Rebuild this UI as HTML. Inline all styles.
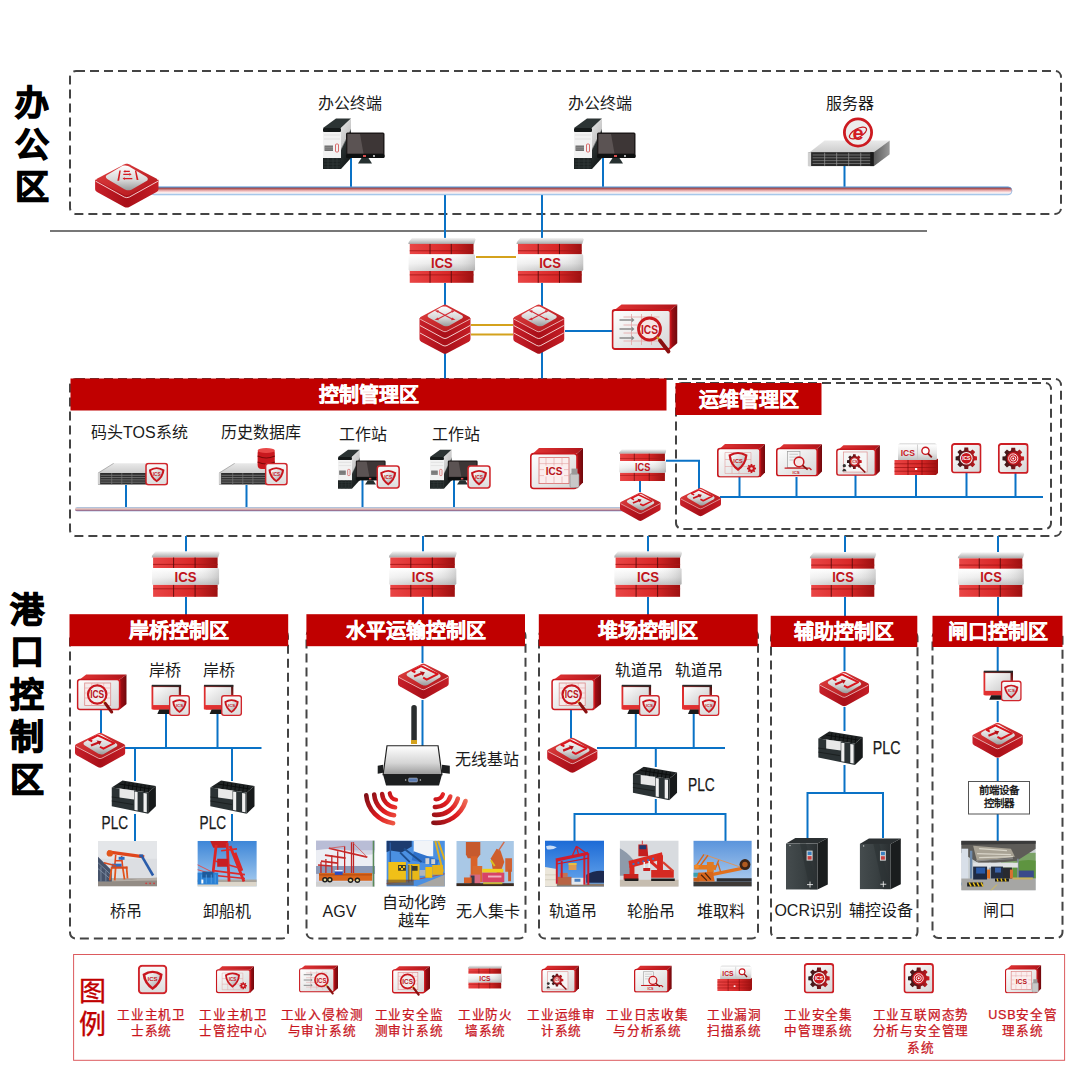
<!DOCTYPE html>
<html lang="zh-CN">
<head>
<meta charset="utf-8">
<style>
html,body{margin:0;padding:0;background:#fff;}
body{width:1078px;height:1068px;overflow:hidden;position:relative;font-family:"Liberation Sans",sans-serif;}
#main{position:absolute;left:0;top:0;}
text{font-family:"Liberation Sans",sans-serif;}
</style>
</head>
<body>
<svg id="main" width="1078" height="1068" viewBox="0 0 1078 1068">
<defs>
<linearGradient id="gCap" x1="0" y1="0" x2="0" y2="1"><stop offset="0" stop-color="#f6f6f6"/><stop offset="1" stop-color="#a9a9a9"/></linearGradient>
<linearGradient id="gBrick" x1="0" y1="0" x2="1" y2="0"><stop offset="0" stop-color="#e94545"/><stop offset=".6" stop-color="#d92828"/><stop offset="1" stop-color="#9c1010"/></linearGradient>
<linearGradient id="gBand" x1="0" y1="0" x2="0" y2="1"><stop offset="0" stop-color="#ffffff"/><stop offset=".55" stop-color="#e6e6e6"/><stop offset="1" stop-color="#bdbdbd"/></linearGradient>
<linearGradient id="gRedTop" x1="0" y1="0" x2="1" y2="1"><stop offset="0" stop-color="#e24141"/><stop offset="1" stop-color="#b0141a"/></linearGradient>
<linearGradient id="gRedSide" x1="0" y1="0" x2="1" y2="0"><stop offset="0" stop-color="#c8202a"/><stop offset=".5" stop-color="#a80f18"/><stop offset="1" stop-color="#c51e26"/></linearGradient>
<linearGradient id="gSilver" x1="0" y1="0" x2="0" y2="1"><stop offset="0" stop-color="#ffffff"/><stop offset=".6" stop-color="#d5d5d5"/><stop offset="1" stop-color="#9a9a9a"/></linearGradient>
<linearGradient id="gBoxFront" x1="0" y1="0" x2="1" y2="1"><stop offset="0" stop-color="#ffffff"/><stop offset="1" stop-color="#d6d6d6"/></linearGradient>
<linearGradient id="gBoxSide" x1="0" y1="0" x2="1" y2="0"><stop offset="0" stop-color="#a80f16"/><stop offset="1" stop-color="#6e080c"/></linearGradient>
<linearGradient id="gBoxTop" x1="0" y1="0" x2="1" y2="0"><stop offset="0" stop-color="#e03434"/><stop offset="1" stop-color="#b0141a"/></linearGradient>
<linearGradient id="gPipe" x1="0" y1="0" x2="0" y2="1"><stop offset="0" stop-color="#4d8fd0"/><stop offset=".18" stop-color="#a24848"/><stop offset=".5" stop-color="#f1b9b9"/><stop offset=".75" stop-color="#fdf3f3"/><stop offset="1" stop-color="#b8d2ee"/></linearGradient>
<linearGradient id="gPipe2" x1="0" y1="0" x2="0" y2="1"><stop offset="0" stop-color="#9ec3e8"/><stop offset=".45" stop-color="#f0c2b4"/><stop offset=".75" stop-color="#9a6f8f"/><stop offset="1" stop-color="#b7cbe9"/></linearGradient>
<linearGradient id="gCab" x1="0" y1="0" x2="1" y2="0"><stop offset="0" stop-color="#454c4e"/><stop offset=".55" stop-color="#394042"/><stop offset="1" stop-color="#2a2f31"/></linearGradient>
<linearGradient id="gScreen" x1="0" y1="0" x2="1" y2="1"><stop offset="0" stop-color="#ffffff"/><stop offset="1" stop-color="#c9c9c9"/></linearGradient>
<linearGradient id="gWave" x1="0" y1="0" x2="1" y2="1"><stop offset="0" stop-color="#ee3030"/><stop offset="1" stop-color="#9a0c10"/></linearGradient>
<linearGradient id="gSky" x1="0" y1="0" x2="0" y2="1"><stop offset="0" stop-color="#3d86d8"/><stop offset="1" stop-color="#a9cdef"/></linearGradient>
<linearGradient id="gBadge" x1="0" y1="0" x2="0" y2="1"><stop offset="0" stop-color="#fafafa"/><stop offset="1" stop-color="#dcdcdc"/></linearGradient>
<linearGradient id="gShieldIn" x1="0" y1="0" x2="1" y2="1"><stop offset="0" stop-color="#ffffff"/><stop offset=".5" stop-color="#d8d8d8"/><stop offset="1" stop-color="#a8a8a8"/></linearGradient>
<linearGradient id="gSrvTop" x1="0" y1="0" x2="0" y2="1"><stop offset="0" stop-color="#e9e9e9"/><stop offset="1" stop-color="#cdcdcd"/></linearGradient>
<linearGradient id="gWaveL" gradientUnits="userSpaceOnUse" x1="364" y1="796" x2="398" y2="826"><stop offset="0" stop-color="#7e1016"/><stop offset=".55" stop-color="#e01a1e"/><stop offset="1" stop-color="#f06a50"/></linearGradient>
<linearGradient id="gWaveR" gradientUnits="userSpaceOnUse" x1="432" y1="826" x2="468" y2="798"><stop offset="0" stop-color="#7e1016"/><stop offset=".55" stop-color="#e01a1e"/><stop offset="1" stop-color="#f07a60"/></linearGradient>
<linearGradient id="gGear" x1="0" y1="0" x2="1" y2="0"><stop offset="0" stop-color="#2e1a1c"/><stop offset=".45" stop-color="#6a1418"/><stop offset="1" stop-color="#d01c22"/></linearGradient>
<linearGradient id="gSkyDeep" x1="0" y1="0" x2="0" y2="1"><stop offset="0" stop-color="#1c6ad6"/><stop offset="1" stop-color="#6aa8ec"/></linearGradient>
<linearGradient id="gSky2" x1="0" y1="0" x2="0" y2="1"><stop offset="0" stop-color="#5a94dc"/><stop offset="1" stop-color="#b4d0ee"/></linearGradient>
<linearGradient id="gBandH" x1="0" y1="0" x2="1" y2="0"><stop offset="0" stop-color="#ffffff" stop-opacity=".5"/><stop offset=".6" stop-color="#ffffff" stop-opacity="0"/><stop offset="1" stop-color="#909090" stop-opacity=".35"/></linearGradient>
<linearGradient id="gSrvSide" x1="0" y1="0" x2="1" y2="0"><stop offset="0" stop-color="#5a5a5a"/><stop offset="1" stop-color="#9a9a9a"/></linearGradient>
<linearGradient id="gMonFrame" x1="0" y1="1" x2="1" y2="0"><stop offset="0" stop-color="#e83232"/><stop offset=".6" stop-color="#d42a2a"/><stop offset="1" stop-color="#3a1010"/></linearGradient>
<linearGradient id="gPcSide" x1="0" y1="0" x2="0.4" y2="1"><stop offset="0" stop-color="#e6e6e6"/><stop offset=".5" stop-color="#c8c8c8"/><stop offset=".56" stop-color="#2a3030"/><stop offset="1" stop-color="#151a1a"/></linearGradient>
<linearGradient id="gSkyGray" x1="0" y1="0" x2="0" y2="1"><stop offset="0" stop-color="#d9dde2"/><stop offset="1" stop-color="#eef0f2"/></linearGradient>

<!-- ICS firewall 68x46 -->
<symbol id="fw" viewBox="0 0 68 46">
 <path d="M4 0.3 H67 L68 2 L66.5 6.5 H0 L0.5 4.5 Z" fill="url(#gCap)"/>
 <rect x="1.5" y="6.5" width="64.5" height="10.8" fill="url(#gBrick)"/>
 <rect x="1.5" y="33.6" width="64.5" height="12.2" fill="url(#gBrick)"/>
 <path d="M1.5 13.4 H66 M1.5 37.8 H66" stroke="#a81818" stroke-width=".9"/>
 <path d="M22 6.5 V17.3 M43.5 6.5 V17.3 M22 33.6 V45.8 M43.5 33.6 V45.8" stroke="#5a0a0a" stroke-width=".9"/>
 <rect x="0.5" y="17" width="67" height="16.8" rx="1.5" fill="url(#gBand)"/>
 <rect x="0.5" y="17" width="67" height="16.8" rx="1.5" fill="url(#gBandH)"/>
 <text x="34" y="31" text-anchor="middle" font-size="15" font-weight="bold" fill="#c0141c" textLength="22" lengthAdjust="spacingAndGlyphs">ICS</text>
</symbol>

<!-- router 52x37 -->
<symbol id="rt" viewBox="0 0 52 37">
 <path d="M0.5 13.5 V21 Q0.5 22.6 2.2 23.6 L24 35.8 Q26 36.8 28 35.8 L49.8 23.6 Q51.5 22.6 51.5 21 V13.5 Z" fill="url(#gRedSide)"/>
 <path d="M24.2 1.2 Q26 0.2 27.8 1.2 L50 12.3 Q52.2 13.5 50 14.7 L27.8 25.8 Q26 26.8 24.2 25.8 L2 14.7 Q-0.2 13.5 2 12.3 Z" fill="url(#gRedTop)"/>
 <path d="M1.2 14.6 L24.2 26.6 Q26 27.5 27.8 26.6 L50.8 14.6" fill="none" stroke="#f6d0d0" stroke-width=".8"/>
 <path d="M42.00 11.38 L42.73 11.93 L43.22 12.57 L43.43 13.23 L43.35 13.89 L42.98 14.49 L42.35 15.00 L30.25 22.20 L29.40 22.58 L28.40 22.79 L27.30 22.84 L26.18 22.71 L25.13 22.42 L24.20 21.98 L10.60 13.82 L9.87 13.27 L9.38 12.63 L9.17 11.97 L9.25 11.31 L9.62 10.71 L10.25 10.20 L22.35 3.00 L23.20 2.62 L24.20 2.41 L25.30 2.36 L26.42 2.49 L27.47 2.78 L28.40 3.22Z" fill="url(#gSilver)"/>

 <path d="M18 9.6 L14.8 8 L23.7 3.4 L40.4 11.4 L29.4 17 L25.8 15" fill="none" stroke="#d8141c" stroke-width="2" stroke-linejoin="round"/>
 <path d="M16.7 13.8 L24.6 10.6" stroke="#c8141c" stroke-width="2.2"/>
 <path d="M27.6 9.4 L22.4 8.6 L25.4 13.2 Z" fill="#b01018"/>
</symbol>

<!-- office router 64x46 -->
<symbol id="rt2" viewBox="0 0 64 46">
 <path d="M0.5 17.5 V27 Q0.5 28.8 2.4 29.8 L29.5 44.6 Q32 45.8 34.5 44.6 L61.6 29.8 Q63.5 28.8 63.5 27 V17.5 Z" fill="url(#gRedSide)"/>
 <path d="M61.30 16.34 L61.79 16.68 L62.10 17.08 L62.21 17.50 L62.10 17.92 L61.79 18.32 L61.30 18.66 L34.20 32.84 L33.56 33.10 L32.81 33.27 L32.00 33.32 L31.19 33.27 L30.44 33.10 L29.79 32.84 L2.70 18.66 L2.21 18.32 L1.90 17.92 L1.79 17.50 L1.90 17.08 L2.21 16.68 L2.71 16.34 L29.79 2.16 L30.44 1.90 L31.19 1.73 L32.00 1.68 L32.81 1.73 L33.56 1.90 L34.20 2.15Z" fill="url(#gRedTop)"/>
 <path d="M1 19 L29.5 34.8 Q32 36 34.5 34.8 L63 19" fill="none" stroke="#f8dada" stroke-width=".9"/>
 <path d="M51.06 14.46 L51.97 15.14 L52.57 15.90 L52.84 16.71 L52.76 17.50 L52.33 18.21 L51.58 18.82 L37.02 27.38 L36.00 27.83 L34.78 28.08 L33.45 28.13 L32.09 27.96 L30.80 27.60 L29.66 27.06 L12.94 17.14 L12.03 16.46 L11.43 15.70 L11.16 14.89 L11.24 14.10 L11.67 13.39 L12.42 12.78 L26.98 4.22 L28.00 3.77 L29.22 3.52 L30.55 3.47 L31.91 3.64 L33.20 4.00 L34.34 4.54Z" fill="url(#gSilver)"/>
 <path d="M24.6 8.3 L26 8.3 L24.4 18.6 L22.6 18.6 Z M40 8.3 L41.4 8.3 L43.6 17.8 L41.8 17.8 Z" fill="#d41c22"/>
 <path d="M30 9.3 H35 M28.5 12.2 H35 M29.5 16.4 H37.5" stroke="#d41c22" stroke-width="1.3"/>
 <path d="M28.5 9.3 L30.5 8 V10.6 Z M36.8 12.2 L34.6 10.8 V13.6 Z M27.8 16.4 L30 15 V17.8 Z" fill="#d41c22"/>
</symbol>

<!-- core switch 52x50 -->
<symbol id="sw" viewBox="0 0 52 50">
 <path d="M0.5 14 V35 Q0.5 36.8 2.2 37.8 L24 49.3 Q26 50.3 28 49.3 L49.8 37.8 Q51.5 36.8 51.5 35 V14 Z" fill="url(#gRedSide)"/>
 <path d="M1 21.5 L24 34 Q26 35 28 34 L51 21.5 M1 29 L24 41.5 Q26 42.5 28 41.5 L51 29" fill="none" stroke="#f3cccc" stroke-width="1"/>
 <path d="M24.2 1 Q26 0 27.8 1 L50 12.8 Q52.2 14 50 15.2 L27.8 26.5 Q26 27.5 24.2 26.5 L2 15.2 Q-0.2 14 2 12.8 Z" fill="url(#gRedTop)"/>
 <path d="M1.2 15.2 L24.2 27.3 Q26 28.2 27.8 27.3 L50.8 15.2" fill="none" stroke="#f6d0d0" stroke-width=".8"/>
 <path d="M42.42 10.98 L43.17 11.51 L43.67 12.12 L43.88 12.76 L43.79 13.40 L43.41 13.99 L42.76 14.50 L30.24 21.70 L29.37 22.08 L28.33 22.31 L27.20 22.37 L26.05 22.26 L24.97 21.99 L24.02 21.58 L10.08 13.82 L9.33 13.29 L8.83 12.68 L8.62 12.04 L8.71 11.40 L9.09 10.81 L9.74 10.30 L22.26 3.10 L23.13 2.72 L24.17 2.49 L25.30 2.43 L26.45 2.54 L27.53 2.81 L28.48 3.22Z" fill="url(#gSilver)"/>
 <path d="M18.5 7.2 L33.5 15.2 M33.5 7.2 L18.5 15.2" stroke="#d42c36" stroke-width="1.1"/>
 <path d="M15.5 6.6 L19.8 6.2 L19 8.8 Z M36.5 6.6 L32.2 6.2 L33 8.8 Z M15.5 15.8 L19.8 16.2 L19 13.6 Z M36.5 15.8 L32.2 16.2 L33 13.6 Z" fill="#d42c36"/>
</symbol>

<!-- office desktop 62x51 -->
<symbol id="pc" viewBox="0 0 62 51">
 <path d="M0 10 L13 0.5 H28 L18 10 Z" fill="#2c3434"/>
 <path d="M18 10 L28 0.5 V40 L18 51 Z" fill="url(#gPcSide)"/>
 <rect x="0" y="10" width="18" height="4" rx="1" fill="#151a1a"/>
 <rect x="0" y="14" width="18" height="26" fill="#f2f2f2"/>
 <path d="M1 17 H17 M1 21 H17" stroke="#dcdcdc" stroke-width=".8"/>
 <rect x="0" y="40" width="18" height="11" fill="#1e2424"/>
 <path d="M1 43 H17 M1 46 H17 M1 49 H17 M5 40 V51 M10 40 V51 M14 40 V51" stroke="#353c3c" stroke-width=".7"/>
 <rect x="1.5" y="27.5" width="8.5" height="5.5" fill="#6e6e6e"/>
 <path d="M1.5 29.3 H10 M1.5 31.1 H10" stroke="#a0a0a0" stroke-width=".6"/>
 <rect x="12.5" y="26" width="3" height="8" rx="1" fill="none" stroke="#d04848" stroke-width=".8"/>
 <rect x="23" y="14.5" width="38.5" height="25.5" rx="1.5" fill="#1e1a1a"/>
 <rect x="24.5" y="16" width="35.5" height="19.5" fill="#3d3636"/>
 <path d="M24.5 16 H37 L40.5 35.5 H24.5 Z" fill="#5b5353"/>
 <rect x="23" y="36" width="38.5" height="4" rx="1.5" fill="#0e1010"/>
 <path d="M38.5 40 H45.5 L49 45.5 H35 Z" fill="#263030"/>
 <rect x="40" y="37" width="3" height="2" fill="#d85050"/>
 <circle cx="51" cy="38" r=".9" fill="#fff"/>
</symbol>

<!-- rack server 82x26 -->
<symbol id="srv" viewBox="0 0 82 26" preserveAspectRatio="none">
 <path d="M2 12 L17 0.5 H82 L66 12 Z" fill="url(#gSrvTop)"/>
 <path d="M66 12 L82 0.5 V14 L66 26 Z" fill="url(#gSrvSide)"/>
 <rect x="1" y="12" width="65" height="14" fill="#2a2a2a"/>
 <path d="M5 14.8 H63 M5 17.6 H63 M5 20.4 H63 M5 23.2 H63" stroke="#7e7e7e" stroke-width=".8"/>
 <path d="M17 12.5 V25.5 M29 12.5 V25.5 M41 12.5 V25.5 M53 12.5 V25.5" stroke="#9a9a9a" stroke-width=".7"/>
 <rect x="0" y="12" width="3.5" height="14" fill="#d0d0d0"/>
 <rect x="62.5" y="12" width="3.5" height="14" fill="#1a1a1a"/>
</symbol>
<!-- small server 48x22 -->
<symbol id="srv2" viewBox="0 0 48 22" preserveAspectRatio="none">
 <path d="M0.5 10 L16 0.3 H48 V10 Z" fill="url(#gSrvTop)"/>
 <path d="M0.5 10 L16 0.3" stroke="#888" stroke-width=".6"/>
 <rect x="0.5" y="10" width="47.5" height="11.5" fill="#2e2e2e"/>
 <path d="M3 12.3 H47 M3 14.6 H47 M3 16.9 H47 M3 19.2 H47" stroke="#8a8a8a" stroke-width=".7"/>
 <path d="M14 10 V21.5 M24 10 V21.5 M34 10 V21.5" stroke="#777" stroke-width=".7"/>
 <rect x="0" y="10" width="2.5" height="11.5" fill="#cfcfcf"/>
</symbol>

<!-- shield badge 23x23 -->
<symbol id="badge" viewBox="0 0 23 23">
 <rect x="1" y="1" width="21" height="21" rx="2.5" fill="url(#gBadge)" stroke="#d0262c" stroke-width="1.5"/>
 <path d="M3.8 7.2 Q11.5 2.2 19.2 7.2 Q18.6 14.8 11.5 19.6 Q4.4 14.8 3.8 7.2 Z" fill="#c8161e"/>
 <path d="M6 8.2 Q11.5 4.8 17 8.2 Q16.4 13.6 11.5 17.2 Q6.6 13.6 6 8.2 Z" fill="url(#gShieldIn)"/>
 <text x="11.5" y="13" text-anchor="middle" font-size="4.6" font-weight="bold" fill="#c8161e">ICS</text>
</symbol>

<!-- red-frame monitor 30x30 -->
<symbol id="mon" viewBox="0 0 30 30">
 <rect x="0" y="0.5" width="30" height="24.5" rx="1" fill="url(#gMonFrame)"/>
 <rect x="0.5" y="0" width="29.5" height="2" fill="#2a2a2a"/>
 <rect x="2" y="2.5" width="25.5" height="18" fill="url(#gScreen)"/>
 <rect x="2" y="21" width="26" height="4" fill="#e03030"/>
 <path d="M8 25 H19 L20.5 29.5 H6 Z" fill="#1a1a1a"/>
</symbol>

<!-- PLC 45x34 -->
<symbol id="plc" viewBox="0 0 45 34">
 <path d="M0.5 7.4 L11.3 0.4 L44.7 6 L36.9 12.4 Z" fill="#1f2324"/>
 <path d="M8 4 L40 9 M14 2 L13 9 M18 2.5 L17 9.5 M22 3.2 L21 10 M26 3.8 L25 10.6 M30 4.5 L29 11.2 M34 5 L33 11.8 M38 5.6 L37 12.3" stroke="#0a0c0c" stroke-width=".9"/>
 <path d="M36.9 12.4 L44.7 6 V26.3 L36.9 33.8 Z" fill="#171a1b"/>
 <path d="M0.5 7.4 L36.9 12.4 V33.8 L0.5 26.3 Z" fill="#2b3234"/>
 <path d="M8.3 8.5 L22.8 10.5 V19.5 L8.3 17.5 Z" fill="#e8e8e8"/>
 <path d="M23.3 11.6 L26.4 12 V30.5 L23.3 30 Z" fill="#f0f0f0"/>
 <path d="M32.3 13 L35.6 13.4 V32.3 L32.3 31.8 Z" fill="#f0f0f0"/>
 <path d="M0.5 17 L8.3 18 M0.5 21 L22 24.5" stroke="#151818" stroke-width=".7"/>
</symbol>

<!-- cabinet 42x52 -->
<symbol id="cab" viewBox="0 0 42 52">
 <path d="M0 6 L9.4 0.5 H41.8 L31.5 6 Z" fill="#2b3032"/>
 <path d="M31.5 6 L41.8 0.5 V47 L31.5 52 Z" fill="#1a1d1e"/>
 <rect x="0" y="6" width="31.5" height="46" fill="url(#gCab)"/>
 <path d="M14 6 L20 6 L31.5 52 H24 Z" fill="#2c3234" opacity=".6"/>
 <rect x="20.6" y="13" width="6" height="10" fill="#d7d7d7"/>
 <rect x="21.6" y="14" width="4" height="3.5" fill="#3a7fbf"/>
 <rect x="21.6" y="18.5" width="4" height="3.5" fill="#c84040"/>
 <path d="M24 44 V50 M21 47 H27" stroke="#fff" stroke-width=".8"/>
 <circle cx="4" cy="8" r=".7" fill="#ddd"/>
</symbol>

<!-- audit box (ICS magnifier) 50x43 -->
<symbol id="audit" viewBox="0 0 50 43">
 <path d="M3 5.5 L9.5 0.5 H50 L43 5.5 Z" fill="url(#gBoxTop)"/>
 <path d="M43 5.5 L50 0.5 V30 L43 35.5 Z" fill="url(#gBoxSide)"/>
 <rect x="0.8" y="5.5" width="42.2" height="30" rx="2.5" fill="url(#gBoxFront)" stroke="#cc1a20" stroke-width="1.7"/>
 <rect x="8" y="9" width="26" height="22.5" fill="#f7eaea" stroke="#dd8a8a" stroke-width=".8"/>
 <path d="M8 14 H34 M8 19 H34 M8 24 H34 M15 9 V31.5 M21 9 V31.5 M27 9 V31.5" stroke="#e7a5a5" stroke-width=".6"/>
 <circle cx="20.5" cy="20.5" r="9.2" fill="#eeeeee" fill-opacity=".85" stroke="#c8161e" stroke-width="2.2"/>
 <text x="20.5" y="24.3" text-anchor="middle" font-size="10" font-weight="bold" fill="#b8141c" textLength="14" lengthAdjust="spacingAndGlyphs">ICS</text>
 <path d="M26.8 27.3 L28.6 29.4" stroke="#d8b020" stroke-width="2"/>
 <path d="M28.6 29.4 L35 38" stroke="#8a1010" stroke-width="3" stroke-linecap="round"/>
</symbol>

<!-- audit box 2 (arrows + magnifier right) 66x55 -->
<symbol id="audit2" viewBox="0 0 66 55">
 <path d="M3 6 L10 0.5 H66 L59 6 Z" fill="url(#gBoxTop)"/>
 <path d="M59 6 L66 0.5 V39 L59 45 Z" fill="url(#gBoxSide)"/>
 <rect x="1" y="6" width="58" height="39" rx="2.5" fill="url(#gBoxFront)" stroke="#c8181e" stroke-width="1.8"/>
 <path d="M12 13 H48 M12 21 H48 M12 29 H48 M12 37 H48 M20 10 V41 M30 10 V41 M40 10 V41" stroke="#e5a5a5" stroke-width=".8"/>
 <path d="M8 16 H20 M8 25 H20 M8 34 H20" stroke="#8a8a8a" stroke-width="1.6"/>
 <path d="M20 13.5 L23 16 L20 18.5 Z M20 22.5 L23 25 L20 27.5 Z M20 31.5 L23 34 L20 36.5 Z" fill="#8a8a8a"/>
 <circle cx="38" cy="25" r="11" fill="#f6e4e4" stroke="#c8181e" stroke-width="2.8"/>
 <text x="38" y="29.5" text-anchor="middle" font-size="12" font-weight="bold" fill="#c0141c" textLength="17" lengthAdjust="spacingAndGlyphs">ICS</text>
 <path d="M45.5 33 L50 38" stroke="#c8a020" stroke-width="2"/>
 <path d="M48.5 36.5 L57 47.5" stroke="#8a1010" stroke-width="3.8" stroke-linecap="round"/>
</symbol>

<!-- USB box 54x42 -->
<symbol id="usbbox" viewBox="0 0 54 42">
 <path d="M3 6 L9 0.5 H53 L47 6 Z" fill="url(#gBoxTop)"/>
 <path d="M47 6 L53 0.5 V35 L47 41 Z" fill="url(#gBoxSide)"/>
 <rect x="0.8" y="6" width="46.2" height="35" rx="3" fill="url(#gBoxFront)" stroke="#c8181e" stroke-width="1.6"/>
 <rect x="9" y="10" width="30" height="26" fill="#fbeeee" stroke="#d76a6a" stroke-width=".8"/>
 <path d="M9 16 H39 M9 22 H39 M9 28 H39 M16 10 V36 M24 10 V36 M32 10 V36" stroke="#e2a0a0" stroke-width=".6"/>
 <rect x="14" y="18" width="20" height="11" fill="#fbeeee"/>
 <text x="24" y="27.5" text-anchor="middle" font-size="10" font-weight="bold" fill="#b8141a">ICS</text>
 <rect x="40" y="26" width="9" height="14" rx="1.5" fill="#c8c8c8" stroke="#888" stroke-width=".6"/>
 <rect x="41.5" y="21" width="6" height="6" fill="#9a9a9a"/>
</symbol>

<!-- ops box: shield + gear 48x34 -->
<symbol id="opsShield" viewBox="0 0 48 34">
 <path d="M3 5 L8 0.5 H48 L43 5 Z" fill="url(#gBoxTop)"/>
 <path d="M43 5 L48 0.5 V29 L43 34 Z" fill="url(#gBoxSide)"/>
 <rect x="0.8" y="5" width="42.2" height="28.5" rx="2.5" fill="url(#gBoxFront)" stroke="#c8181e" stroke-width="1.6"/>
 <path d="M8 9 H34 V30 H8 Z M8 16 H34 M8 23 H34 M15 9 V30 M22 9 V30" fill="none" stroke="#e2a0a0" stroke-width=".6"/>
 <path d="M11.5 11.2 Q21 5.6 30.5 11.2 Q29.6 21.5 21 27.6 Q12.4 21.5 11.5 11.2 Z" fill="#c8161e"/>
 <path d="M14 12.4 Q21 8.4 28 12.4 Q27.2 20 21 24.6 Q14.8 20 14 12.4 Z" fill="url(#gShieldIn)"/>
 <text x="21" y="19" text-anchor="middle" font-size="5.6" font-weight="bold" fill="#c8161e">ICS</text>
 <path d="M33.59 21.72 L33.69 20.47 L35.31 20.47 L35.41 21.72 L36.17 22.04 L37.13 21.23 L38.27 22.37 L37.46 23.33 L37.78 24.09 L39.03 24.19 L39.03 25.81 L37.78 25.91 L37.46 26.67 L38.27 27.63 L37.13 28.77 L36.17 27.96 L35.41 28.28 L35.31 29.53 L33.69 29.53 L33.59 28.28 L32.83 27.96 L31.87 28.77 L30.73 27.63 L31.54 26.67 L31.22 25.91 L29.97 25.81 L29.97 24.19 L31.22 24.09 L31.54 23.33 L30.73 22.37 L31.87 21.23 L32.83 22.04Z" fill="#c8161e"/>
 <circle cx="34.5" cy="25" r="1.3" fill="#f0d0d0"/>
</symbol>

<!-- ops box: log 48x34 -->
<symbol id="opsLog" viewBox="0 0 48 34">
 <path d="M3 5 L8 0.5 H48 L43 5 Z" fill="url(#gBoxTop)"/>
 <path d="M43 5 L48 0.5 V29 L43 34 Z" fill="url(#gBoxSide)"/>
 <rect x="0.8" y="5" width="42.2" height="28.5" rx="2.5" fill="url(#gBoxFront)" stroke="#c8181e" stroke-width="1.6"/>
 <rect x="12" y="8" width="13" height="17" fill="#f4f4f4" stroke="#999" stroke-width=".7"/>
 <path d="M14 11 H23 M14 14 H23 M14 17 H21" stroke="#aaa" stroke-width=".6"/>
 <circle cx="24" cy="19" r="5" fill="#f7e6e6" stroke="#c8181e" stroke-width="1.6"/>
 <path d="M9 25.5 H35 L37 27.5" fill="none" stroke="#c8181e" stroke-width="1.4"/>
 <path d="M27.5 22.5 L33 27" stroke="#8a1010" stroke-width="1.8"/>
 <text x="21" y="31.5" text-anchor="middle" font-size="4.5" font-weight="bold" fill="#c8181e">ICS</text>
</symbol>

<!-- ops box: gear + magnifier 48x34 -->
<symbol id="opsGear" viewBox="0 0 48 34">
 <path d="M3 5 L8 0.5 H48 L43 5 Z" fill="url(#gBoxTop)"/>
 <path d="M43 5 L48 0.5 V29 L43 34 Z" fill="url(#gBoxSide)"/>
 <rect x="0.8" y="5" width="42.2" height="28.5" rx="2.5" fill="url(#gBoxFront)" stroke="#c8181e" stroke-width="1.6"/>
 <rect x="8" y="8" width="26" height="22" fill="#f6f6f6" stroke="#d88" stroke-width=".7"/>
 <path d="M18.34 12.53 L18.56 10.43 L21.44 10.43 L21.66 12.53 L23.05 13.10 L24.69 11.77 L26.73 13.81 L25.40 15.45 L25.97 16.84 L28.07 17.06 L28.07 19.94 L25.97 20.16 L25.40 21.55 L26.73 23.19 L24.69 25.23 L23.05 23.90 L21.66 24.47 L21.44 26.57 L18.56 26.57 L18.34 24.47 L16.95 23.90 L15.31 25.23 L13.27 23.19 L14.60 21.55 L14.03 20.16 L11.93 19.94 L11.93 17.06 L14.03 16.84 L14.60 15.45 L13.27 13.81 L15.31 11.77 L16.95 13.10Z" fill="url(#gGear)"/>
 <circle cx="20" cy="18.5" r="4.2" fill="#f0e0e0" stroke="#c8181e" stroke-width="1.2"/>
 <text x="20" y="20" text-anchor="middle" font-size="3.8" font-weight="bold" fill="#c8181e">ICS</text>
 <path d="M24 22.5 L32 30.5" stroke="#8a1010" stroke-width="1.8"/>
 <circle cx="9" cy="23" r="1.8" fill="#333"/>
 <path d="M6.5 29 Q9 24 11.5 29 Z" fill="#333"/>
</symbol>

<!-- vuln scanner 44x32 -->
<symbol id="scan" viewBox="0 0 44 32">
 <path d="M4 2 L6 0 H41 L43 2 V17 H4 Z" fill="#e2e2e2"/>
 <rect x="4" y="1.5" width="19.5" height="16" fill="url(#gBand)"/>
 <rect x="23.5" y="1.5" width="19.5" height="16" fill="url(#gBand)"/>
 <path d="M23.5 1.5 V17.5" stroke="#bbb" stroke-width=".6"/>
 <text x="13.8" y="13" text-anchor="middle" font-size="8.5" font-weight="bold" fill="#c8161e">ICS</text>
 <circle cx="31.5" cy="7.8" r="3.6" fill="#fff" stroke="#c8161e" stroke-width="1.4"/>
 <path d="M34 10.5 L37.8 14.4" stroke="#8a1010" stroke-width="1.8"/>
 <path d="M0.5 17 H42 L44 15.5 V30 L42 32 H0.5 Z" fill="url(#gBrick)"/>
 <path d="M0.5 20.8 H42 M0.5 24.5 H42 M0.5 28.2 H42" stroke="#9a1010" stroke-width=".7"/>
 <path d="M14 17 V32 M28 17 V32" stroke="#7a0808" stroke-width=".7"/>
 <rect x="21" y="25" width="2.2" height="2" fill="#fff"/>
</symbol>

<!-- gear square 31x31 -->
<symbol id="gear1" viewBox="0 0 31 31">
 <rect x="1" y="1" width="29" height="29" rx="2.5" fill="url(#gBoxFront)" stroke="#cc1e24" stroke-width="1.8"/>
 <path d="M13.28 7.50 L13.57 4.67 L17.43 4.67 L17.72 7.50 L19.58 8.27 L21.79 6.48 L24.52 9.21 L22.73 11.42 L23.50 13.28 L26.33 13.57 L26.33 17.43 L23.50 17.72 L22.73 19.58 L24.52 21.79 L21.79 24.52 L19.58 22.73 L17.72 23.50 L17.43 26.33 L13.57 26.33 L13.28 23.50 L11.42 22.73 L9.21 24.52 L6.48 21.79 L8.27 19.58 L7.50 17.72 L4.67 17.43 L4.67 13.57 L7.50 13.28 L8.27 11.42 L6.48 9.21 L9.21 6.48 L11.42 8.27Z" fill="url(#gGear)"/>
 <circle cx="15.5" cy="15.5" r="6.4" fill="#f4f4f4"/>
 <circle cx="15.5" cy="15.5" r="5.4" fill="#c8161e"/>
 <text x="15.5" y="17.3" text-anchor="middle" font-size="5" font-weight="bold" fill="#fff">ICS</text>
</symbol>
<symbol id="gear2" viewBox="0 0 31 31">
 <rect x="1" y="1" width="29" height="29" rx="2.5" fill="url(#gBoxFront)" stroke="#cc1e24" stroke-width="1.8"/>
 <path d="M13.28 7.50 L13.57 4.67 L17.43 4.67 L17.72 7.50 L19.58 8.27 L21.79 6.48 L24.52 9.21 L22.73 11.42 L23.50 13.28 L26.33 13.57 L26.33 17.43 L23.50 17.72 L22.73 19.58 L24.52 21.79 L21.79 24.52 L19.58 22.73 L17.72 23.50 L17.43 26.33 L13.57 26.33 L13.28 23.50 L11.42 22.73 L9.21 24.52 L6.48 21.79 L8.27 19.58 L7.50 17.72 L4.67 17.43 L4.67 13.57 L7.50 13.28 L8.27 11.42 L6.48 9.21 L9.21 6.48 L11.42 8.27Z" fill="url(#gGear)"/>
 <circle cx="15.5" cy="15.5" r="6.4" fill="#c8161e"/>
 <circle cx="15.5" cy="15.5" r="4.6" fill="none" stroke="#fff" stroke-width=".9"/>
 <circle cx="15.5" cy="15.5" r="2.6" fill="none" stroke="#fff" stroke-width=".9"/>
 <circle cx="15.5" cy="15.5" r="1" fill="#fff"/>
</symbol>

<!-- base station 75x42 -->
<symbol id="bs" viewBox="0 0 75 42">
 <path d="M10 0.5 H62 L66 30 H6 Z" fill="url(#gSilver)" stroke="#222" stroke-width="1.2"/>
 <path d="M6 30 H66 L63 41 H9 Z" fill="#1d1f20"/>
 <path d="M6 20 L0.5 21 V29 L6 28 Z M66 20 L74 21 V29 L66 28 Z" fill="#1d1f20"/>
 <rect x="32" y="33.5" width="9" height="4" rx="1" fill="#5a7ab0" stroke="#ccc" stroke-width=".5"/>
 <circle cx="29" cy="35.5" r=".8" fill="#ccc"/><circle cx="44" cy="35.5" r=".8" fill="#ccc"/>
</symbol>

<!-- wave -->
<symbol id="waveL" viewBox="0 0 38 37">
 <path d="M30.66 34.95 A36.5 36.5 0 0 1 0.86 4.08 A4.25 4.25 0 0 1 9.27 2.90 A28 28 0 0 0 32.14 26.57 A4.25 4.25 0 0 1 30.66 34.95Z" fill="url(#gWave)"/>
 <path d="M33.52 23.76 A25 25 0 0 1 12.38 3.34 A3.25 3.25 0 0 1 18.78 2.21 A18.5 18.5 0 0 0 34.43 17.32 A3.25 3.25 0 0 1 33.52 23.76Z" fill="url(#gWave)"/>
 <path d="M35.48 13.42 A14.5 14.5 0 0 1 22.99 2.75 A2.5 2.5 0 0 1 27.82 1.46 A9.5 9.5 0 0 0 36.01 8.45 A2.5 2.5 0 0 1 35.48 13.42Z" fill="url(#gWave)"/>
</symbol>
</defs>

<!-- ===================== DASHED BOXES ===================== -->
<g fill="none" stroke="#444" stroke-width="2" stroke-dasharray="9 5">
 <rect x="70" y="71" width="991" height="143" rx="6"/>
 <rect x="70" y="379" width="991" height="157" rx="6"/>
 <rect x="676" y="383" width="375" height="146" rx="6"/>
 <rect x="70" y="630" width="218" height="308.5" rx="6"/>
 <rect x="306.5" y="630" width="219" height="308.5" rx="6"/>
 <rect x="539" y="630" width="219" height="308.5" rx="6"/>
 <rect x="771" y="631" width="146.5" height="307" rx="6"/>
 <rect x="932.5" y="631" width="130" height="307" rx="6"/>
</g>

<!-- ===================== LINES ===================== -->
<line x1="50" y1="231" x2="927" y2="231" stroke="#4a4a4a" stroke-width="1.3"/>
<g stroke="#0a72c6" stroke-width="2" fill="none">
 <!-- office -->
 <path d="M351 158 V191 M603 158 V191 M844.5 166 V191"/>
 <path d="M445 195 V238 M542 195 V238"/>
 <path d="M445 283 V306 M542 283 V306"/>
 <path d="M445 352 V379 M542 352 V379"/>
 <path d="M565 331 H612"/>
 <!-- control zone -->
 <path d="M126 485 V509 M246.5 485 V509 M362.5 480 V509 M454 480 V509"/>
 <path d="M640 481 V492"/>
 <path d="M666 460.8 H699 V489"/>
 <path d="M720 497 H1043"/>
 <path d="M739.5 477 V497 M796.5 477 V497 M855.5 475 V497 M916 475 V497 M966.5 473 V497 M1015.5 473 V497"/>
 <!-- to port zone -->
 <path d="M186 536 V552 M186 597 V615"/>
 <path d="M423 536 V552 M423 597 V615"/>
 <path d="M648 536 V552 M648 597 V615"/>
 <path d="M845 536 V552 M845 597 V616"/>
 <path d="M998 536 V552 M998 597 V616"/>
 <!-- col1 -->
 <path d="M101 709 V733"/>
 <path d="M125 748 H261.5"/>
 <path d="M166 714 V748 M217.5 714 V748"/>
 <path d="M135 748 V781 M135 814 V841 M232 748 V781 M232 814 V841"/>
 <!-- col2 -->
 <path d="M422.5 646 V663 M422.5 700 V746"/>
 <!-- col3 -->
 <path d="M571 709 V738"/>
 <path d="M597 748 H725"/>
 <path d="M635.8 714 V748 M693.7 714 V748"/>
 <path d="M655.8 748 V767 M655.8 799 V814"/>
 <path d="M574.5 841 V814 H725.5 V841"/>
 <!-- col4 -->
 <path d="M844.5 647 V671 M844.5 707 V731 M844.5 765 V793"/>
 <path d="M807.5 838 V793 H883 V838"/>
 <!-- col5 -->
 <path d="M997.7 647 V671 M997.7 701 V722 M997.7 758 V781 M997.7 814 V841"/>
</g>
<path d="M476 257 H516 M471 325 H513 M471 334.5 H513" stroke="#d4a21c" stroke-width="2"/>
<!-- pipes -->
<rect x="150" y="186.8" width="862" height="8" rx="4" fill="url(#gPipe)" stroke="#6aa3dd" stroke-width=".6"/>
<rect x="75" y="507" width="555" height="4.6" rx="2.3" fill="url(#gPipe2)"/>

<!-- ===================== HEADERS ===================== -->
<g fill="#c00000">
 <rect x="70.5" y="378.5" width="596" height="32"/>
 <rect x="675.5" y="383" width="146" height="32"/>
 <rect x="69.5" y="614.2" width="218.7" height="32"/>
 <rect x="306.4" y="614.2" width="218.6" height="32"/>
 <rect x="538.8" y="614.2" width="218.9" height="32"/>
 <rect x="770.7" y="615.8" width="146.6" height="31.2"/>
 <rect x="932.5" y="615.8" width="130" height="31.2"/>
</g>
<g fill="#fff" stroke="#fff" stroke-width=".5" font-size="20" font-weight="bold" text-anchor="middle">
 <text x="368.5" y="402">控制管理区</text>
 <text x="748.5" y="407">运维管理区</text>
 <text x="178.8" y="638">岸桥控制区</text>
 <text x="415.7" y="638">水平运输控制区</text>
 <text x="648.2" y="638">堆场控制区</text>
 <text x="844" y="639">辅助控制区</text>
 <text x="997.5" y="639">闸口控制区</text>
</g>

<!-- big zone labels -->
<g font-size="34" font-weight="bold" fill="#000" stroke="#000" stroke-width="1.3" text-anchor="middle">
 <text x="31.5" y="115">办</text>
 <text x="31.5" y="157">公</text>
 <text x="31.5" y="198.8">区</text>
 <text x="27" y="621.6">港</text>
 <text x="27" y="663.5">口</text>
 <text x="27" y="707.3">控</text>
 <text x="27" y="748.8">制</text>
 <text x="27" y="791.5">区</text>
</g>

<!-- ===================== LABELS ===================== -->
<g font-size="16" fill="#1a1a1a" text-anchor="middle">
 <text x="350" y="109">办公终端</text>
 <text x="600" y="109">办公终端</text>
 <text x="849.5" y="109">服务器</text>
 <text x="139.3" y="438">码头TOS系统</text>
 <text x="261.4" y="438">历史数据库</text>
 <text x="363" y="440">工作站</text>
 <text x="456.4" y="440">工作站</text>
 <text x="165" y="676">岸桥</text>
 <text x="218.7" y="676">岸桥</text>
 <text x="639" y="676">轨道吊</text>
 <text x="699.2" y="676">轨道吊</text>
 <text x="487.2" y="765">无线基站</text>
 <text x="125.6" y="917">桥吊</text>
 <text x="226.5" y="917">卸船机</text>
 <text x="339.5" y="917">AGV</text>
 <text x="414.3" y="908">自动化跨</text>
 <text x="414.3" y="926">越车</text>
 <text x="487.6" y="917">无人集卡</text>
 <text x="573.2" y="917">轨道吊</text>
 <text x="650.9" y="917">轮胎吊</text>
 <text x="721.2" y="917">堆取料</text>
 <text x="808.2" y="916">OCR识别</text>
 <text x="881" y="916">辅控设备</text>
 <text x="999.2" y="916">闸口</text>
 <text x="101.6" y="829" font-size="18.2" stroke="#1a1a1a" stroke-width=".25" text-anchor="start" textLength="26.4" lengthAdjust="spacingAndGlyphs">PLC</text>
 <text x="199.6" y="829" font-size="18.2" stroke="#1a1a1a" stroke-width=".25" text-anchor="start" textLength="26.4" lengthAdjust="spacingAndGlyphs">PLC</text>
 <text x="688" y="790.6" font-size="18.2" stroke="#1a1a1a" stroke-width=".25" text-anchor="start" textLength="26.8" lengthAdjust="spacingAndGlyphs">PLC</text>
 <text x="872.8" y="754.2" font-size="18.2" stroke="#1a1a1a" stroke-width=".25" text-anchor="start" textLength="27.6" lengthAdjust="spacingAndGlyphs">PLC</text>
</g>

<!-- front-end controller -->
<rect x="968.5" y="781.5" width="61" height="32.5" fill="#fff" stroke="#555" stroke-width="1"/>
<g font-size="10.5" font-weight="bold" fill="#222" text-anchor="middle">
 <text x="999" y="794.3">前端设备</text>
 <text x="999" y="806.8">控制器</text>
</g>

<!-- ===================== ICONS ===================== -->
<!-- office -->
<use href="#rt2" x="94.6" y="162" width="64.4" height="46.4"/>
<use href="#pc" x="323" y="118" width="62" height="51"/>
<use href="#pc" x="574" y="118" width="62" height="51"/>
<use href="#srv" x="807.6" y="140" width="82.2" height="26.3"/>
<circle cx="858" cy="132.5" r="13.6" fill="#ececec" stroke="#cc1a20" stroke-width="2.8"/>
<text x="858" y="139.5" text-anchor="middle" font-size="20" font-weight="bold" fill="#d41c22">e</text>
<ellipse cx="858" cy="133" rx="9.5" ry="4.2" transform="rotate(-28 858 133)" fill="none" stroke="#c8181e" stroke-width="1.3"/>

<!-- core -->
<use href="#fw" x="407.8" y="237.5" width="68.2" height="45.5"/>
<use href="#fw" x="516" y="237.5" width="68.2" height="45.5"/>
<use href="#sw" x="419" y="304" width="52" height="50"/>
<use href="#sw" x="512.8" y="304" width="52" height="50"/>
<use href="#audit2" x="611.5" y="304" width="66" height="55"/>

<!-- control mgmt zone -->
<use href="#srv2" x="97.6" y="463" width="48.4" height="22"/>
<use href="#badge" x="145" y="462.4" width="23.4" height="23.4"/>
<use href="#srv2" x="218.6" y="463" width="48.4" height="22"/>
<rect x="257.6" y="449" width="17.2" height="20" rx="4" fill="#c8181e"/>
<ellipse cx="266.2" cy="450.5" rx="8.6" ry="2.6" fill="#e94848"/>
<path d="M257.6 456 Q266.2 460 274.8 456 M257.6 462 Q266.2 466 274.8 462" stroke="#7a0a0a" stroke-width="1.2" fill="none"/>
<use href="#badge" x="264.6" y="462.4" width="23.4" height="23.4"/>
<use href="#pc" x="338" y="449" width="48" height="40"/>
<use href="#badge" x="376.2" y="465" width="24" height="24"/>
<use href="#pc" x="430" y="449" width="48" height="40"/>
<use href="#badge" x="467" y="465" width="24" height="24"/>
<use href="#usbbox" x="530" y="447.6" width="54" height="42"/>
<use href="#fw" x="619" y="449" width="47.3" height="32.3"/>
<use href="#rt" x="619.6" y="491" width="41.4" height="31.5"/>
<use href="#rt" x="679.7" y="487" width="41.7" height="30"/>
<use href="#opsShield" x="717" y="443.5" width="48" height="34"/>
<use href="#opsLog" x="776" y="443.5" width="46" height="33"/>
<use href="#opsGear" x="836" y="444.7" width="44" height="31"/>
<use href="#scan" x="894" y="443" width="44" height="32"/>
<use href="#gear1" x="951" y="443" width="30.6" height="30.6"/>
<use href="#gear2" x="997.8" y="443" width="30.9" height="30.9"/>

<!-- port zone firewalls -->
<use href="#fw" x="151.3" y="551" width="68.6" height="46"/>
<use href="#fw" x="388.5" y="551" width="68.6" height="46"/>
<use href="#fw" x="613.8" y="551" width="68.6" height="46"/>
<use href="#fw" x="809" y="552" width="68" height="45"/>
<use href="#fw" x="957" y="552" width="68" height="45"/>

<!-- col1 -->
<use href="#audit" x="76.7" y="674" width="50" height="43"/>
<use href="#rt" x="74.5" y="731.8" width="51.2" height="36.8"/>
<use href="#mon" x="151.3" y="684.6" width="30" height="30"/>
<use href="#badge" x="168.7" y="694.4" width="21.5" height="22.3"/>
<use href="#mon" x="203.6" y="684.6" width="30" height="30"/>
<use href="#badge" x="220.8" y="694.4" width="21.5" height="22.3"/>
<use href="#plc" x="111.2" y="780" width="45" height="34"/>
<use href="#plc" x="209.6" y="780" width="45.4" height="34"/>

<!-- col2 -->
<use href="#rt" x="397.5" y="662.8" width="51.7" height="36.8"/>
<rect x="411.3" y="705" width="5.5" height="38" rx="2.7" fill="#2a2d2e"/>
<rect x="411" y="740" width="6" height="4" fill="#d4a21c"/>
<use href="#bs" x="376.8" y="745.2" width="74.4" height="41.2"/>
<path d="M363.93 795.39 A33.2 33.2 0 0 0 392.95 825.45 A2.30 2.30 0 0 0 393.51 820.89 A28.6 28.6 0 0 1 368.51 794.99 A2.30 2.30 0 0 0 363.93 795.39Z M371.90 794.70 A25.2 25.2 0 0 0 393.93 817.51 A2.30 2.30 0 0 0 394.49 812.95 A20.6 20.6 0 0 1 376.48 794.30 A2.30 2.30 0 0 0 371.90 794.70Z M379.87 794.00 A17.2 17.2 0 0 0 394.90 809.57 A2.20 2.20 0 0 0 395.44 805.20 A12.8 12.8 0 0 1 384.25 793.62 A2.20 2.20 0 0 0 379.87 794.00Z M387.64 793.32 A9.4 9.4 0 0 0 395.85 801.83 A2.10 2.10 0 0 0 396.37 797.66 A5.2 5.2 0 0 1 391.82 792.95 A2.10 2.10 0 0 0 387.64 793.32Z" fill="url(#gWaveL)"/>
<path d="M467.75 801.71 A33.2 33.2 0 0 1 433.11 825.07 A2.30 2.30 0 0 1 433.51 820.49 A28.6 28.6 0 0 0 463.35 800.36 A2.30 2.30 0 0 1 467.75 801.71Z M460.10 799.37 A25.2 25.2 0 0 1 433.80 817.10 A2.30 2.30 0 0 1 434.20 812.52 A20.6 20.6 0 0 0 455.70 798.02 A2.30 2.30 0 0 1 460.10 799.37Z M452.45 797.03 A17.2 17.2 0 0 1 434.50 809.13 A2.20 2.20 0 0 1 434.88 804.75 A12.8 12.8 0 0 0 448.24 795.74 A2.20 2.20 0 0 1 452.45 797.03Z M444.99 794.75 A9.4 9.4 0 0 1 435.18 801.36 A2.10 2.10 0 0 1 435.55 797.18 A5.2 5.2 0 0 0 440.97 793.52 A2.10 2.10 0 0 1 444.99 794.75Z" fill="url(#gWaveR)"/>


<!-- col3 -->
<use href="#audit" x="551.2" y="674" width="50" height="43"/>
<use href="#rt" x="546.7" y="736.8" width="51.2" height="36.9"/>
<use href="#mon" x="621.3" y="684.6" width="30" height="30"/>
<use href="#badge" x="638.6" y="694.4" width="21.5" height="22.3"/>
<use href="#mon" x="682" y="684.6" width="30" height="30"/>
<use href="#badge" x="698.2" y="694.4" width="21.5" height="22.3"/>
<use href="#plc" x="632.4" y="766.4" width="45" height="34"/>

<!-- col4 -->
<use href="#rt" x="818.4" y="671" width="51.6" height="36"/>
<use href="#plc" x="817.6" y="731" width="45.7" height="34.2"/>
<use href="#cab" x="786" y="837.5" width="42" height="52.2"/>
<use href="#cab" x="859.7" y="837.5" width="41.3" height="52.2"/>

<!-- col5 -->
<use href="#mon" x="983.3" y="670.2" width="29.7" height="30.5"/>
<use href="#badge" x="1000.6" y="680" width="21.3" height="21.9"/>
<use href="#rt" x="972" y="722" width="51.3" height="36.6"/>

<!-- ===================== PHOTOS ===================== -->
<!-- 桥吊 -->
<svg x="98" y="840.7" width="59" height="46" viewBox="0 0 60 46">
 <rect width="60" height="46" fill="#dcdee2"/>
 <rect width="60" height="18" fill="#e4e6e9"/>
 <rect y="38" width="60" height="8" fill="#938c85"/>
 <path d="M0 38 L34 39 L60 37 V40 L0 41Z" fill="#b5aea7"/>
 <path d="M0 16 L14 30 V41 H0 Z" fill="#45526a"/>
 <path d="M0 22 L13 34 M0 28 L12 38 M3 26 V41 M8 30 V41" stroke="#8494aa" stroke-width=".8"/>
 <path d="M14 26 L12 40 M18 26 L17 40 M25 26 L27 39 M29 26 L30 38" stroke="#e2541c" stroke-width="1.8"/>
 <path d="M10 11 L47 16" stroke="#e0461c" stroke-width="3.2"/>
 <circle cx="12" cy="12.5" r="3.2" fill="#e2561c"/>
 <path d="M18 14 L17 26 M24 15 L25 26 M18 20 H25" stroke="#e0461c" stroke-width="1.6"/>
 <path d="M45 16 L56 35" stroke="#2a5caa" stroke-width="2.6"/>
 <rect x="14" y="23" width="10" height="3.5" fill="#2d6cc2"/>
 <rect x="21" y="16" width="6" height="3" fill="#2d6cc2"/>
 <rect x="42" y="13.5" width="4" height="3" fill="#2a5aa8"/>
 <path d="M6 22 L18 25" stroke="#d8481c" stroke-width="1.5"/>
 <path d="M14 27 H30" stroke="#d84a1c" stroke-width="2.4"/>
 <circle cx="49" cy="43" r="1" fill="#d04040"/><circle cx="53" cy="43" r="1" fill="#d04040"/><circle cx="57" cy="43" r="1" fill="#d04040"/>
</svg>
<!-- 卸船机 -->
<svg x="197.4" y="840.7" width="59.4" height="46" viewBox="0 0 60 46">
 <rect width="60" height="46" fill="url(#gSky)"/>
 <rect y="41" width="60" height="5" fill="#dcd6ca"/>
 <rect y="39" width="60" height="2.5" fill="#a9a49c"/>
 <path d="M13 0 H31 L29 7 H16 Z" fill="#c41e22"/>
 <path d="M19 4 L15 39 M30 2 L32 41 M33 5 L47 41 M38 12 L45 30" stroke="#dc2626" stroke-width="2.8"/>
 <path d="M17 20 L45 28 M16 30 L48 34 M24 10 L40 8 M18 35 L48 38" stroke="#dc2a2a" stroke-width="1.6"/>
 <path d="M20 18 L31 18 L31 26 L20 26 Z" fill="#c81e22"/>
 <path d="M0 24 L14 31 M0 29 L14 33" stroke="#e05050" stroke-width="1"/>
 <rect x="0" y="32" width="21" height="12" fill="#2a80d4"/>
 <rect x="5" y="31" width="11" height="6" fill="#1d5a9c"/>
 <path d="M4 34 V43 M9 34 V43 M14 34 V43 M18 34 V43" stroke="#58a2e4" stroke-width=".8"/>
 <rect x="4" y="39" width="2" height="4" fill="#fff"/>
</svg>
<!-- AGV -->
<svg x="316" y="840.4" width="59.2" height="46.3" viewBox="0 0 60 47">
 <rect width="60" height="47" fill="#d4d6e4"/>
 <rect width="60" height="10" fill="#b9bdd6"/>
 <path d="M0 10 Q20 6 40 12 T60 10 V26 H0 Z" fill="#eceef4"/>
 <rect y="26" width="60" height="8" fill="#8a98b6"/>
 <rect y="42" width="60" height="5" fill="#cfcfcf"/>
 <path d="M13 8 L52 17 M9 15 L30 18 M5 21 L22 23 M2 25 L16 26" stroke="#c82a2a" stroke-width="1.7"/>
 <path d="M36 2 V34 M38 2 V34 M29 6 V34 M22 11 V33 M16 15 V33 M10 19 V33 M5 22 V33" stroke="#c02626" stroke-width="1.3"/>
 <path d="M37 2 L52 17 M29 6 L13 8" stroke="#d05050" stroke-width=".8"/>
 <path d="M3 33 H57 V41 H3 Z" fill="#d9661c"/>
 <path d="M3 35 H57" stroke="#b04810" stroke-width="1"/>
 <rect x="19" y="31" width="8" height="4" fill="#2a4cc0"/>
 <rect x="19" y="30" width="8" height="1.5" fill="#f0f0f8"/>
 <circle cx="9" cy="40" r="2.8" fill="#1e1e1e"/><circle cx="14" cy="40" r="2.8" fill="#1e1e1e"/><circle cx="35" cy="40.5" r="2.8" fill="#1e1e1e"/><circle cx="42" cy="40.5" r="2.8" fill="#1e1e1e"/>
 <circle cx="9" cy="40" r="1.3" fill="#e8e0a0"/><circle cx="14" cy="40" r="1.3" fill="#e8e0a0"/><circle cx="35" cy="40.5" r="1.3" fill="#e8e0a0"/><circle cx="42" cy="40.5" r="1.3" fill="#e8e0a0"/>
 <rect x="57.5" y="0" width="1.5" height="47" fill="#5a8a5a"/>
</svg>
<!-- 跨越车 -->
<svg x="386.4" y="840.4" width="58.5" height="46.3" viewBox="0 0 60 47">
 <rect width="60" height="47" fill="#4b90e2"/>
 <rect x="28" y="0" width="20" height="16" fill="#f2f4f8"/>
 <path d="M0 0 H26 V6 L16 12 L4 10 L0 12Z" fill="#1c3c70"/>
 <path d="M4 2 V26" stroke="#2a5aa0" stroke-width="1.5"/>
 <path d="M28 11 L54 20 L52 26 L26 20 Z" fill="#2f72cc"/>
 <path d="M18 8 L36 22 M14 12 L24 22" stroke="#1f4e8c" stroke-width="2"/>
 <path d="M50 0 L58 32 M53 0 L60 20" stroke="#e0b020" stroke-width="2"/>
 <rect x="40" y="18" width="4" height="6" fill="#d0d0d0"/><rect x="46" y="19" width="4" height="5" fill="#d0d0d0"/>
 <path d="M30 47 L60 35 V47 Z" fill="#a8a6a2"/>
 <path d="M0 44 L30 40 L60 34" stroke="#b84030" stroke-width=".8" fill="none"/>
 <path d="M2 22 H20 V43 H2 Z" fill="#f0c018"/>
 <path d="M12 25 H20 V31 H12 Z" fill="#3a3a2a"/>
 <path d="M13 26 H15 V28 H13Z M17 26 H19 V28 H17Z M15 28 H17 V30 H15Z" fill="#f0c018"/>
 <path d="M22 24 H34 V40 H22 Z" fill="#e8b818"/>
 <path d="M26 26 H32 V31 H26Z" fill="#3a3a2a"/>
 <path d="M23 25 V43 M26 25 V42" stroke="#3a4a6a" stroke-width="1"/>
 <path d="M34 30 H40 V36 H34Z" fill="#b0b4bc"/>
 <path d="M40 27 H47 V38 H40 Z" fill="#f0c018"/>
 <path d="M47 25 H58 V35 H47 Z" fill="#e6b21a"/>
 <rect x="0" y="40" width="28" height="6" fill="#6a4a2a" opacity=".6"/>
</svg>
<!-- 无人集卡 -->
<svg x="456.3" y="840.4" width="57.6" height="46.3" viewBox="0 0 60 47">
 <rect width="60" height="47" fill="#a9c8e6"/>
 <path d="M10 1 H25 V14 L22 18 H12 L10 14 Z" fill="#c65a2e"/>
 <path d="M15 16 H22 V42 H15 Z" fill="#d8622a"/>
 <path d="M17 26 H27 V43 H17 Z" fill="#d86a30"/>
 <path d="M36 18 L42 8 L46 10 L50 22 L47 30 H38 Z" fill="#cf5e2c"/>
 <path d="M44 10 L50 1" stroke="#d06a4a" stroke-width="1.5"/>
 <path d="M36 20 L40 26" stroke="#d8c020" stroke-width="2"/>
 <path d="M42 28 H46 V36 H42Z" fill="#c85a2a"/>
 <path d="M51 18 H58 V32 H51 Z" fill="#d06232"/>
 <path d="M54 30 H57 V42 H54Z" fill="#c85a2a"/>
 <rect x="27" y="29" width="22" height="4" fill="#f0d020"/>
 <rect x="27" y="33" width="23" height="10" fill="#d84466"/>
 <rect x="33" y="36" width="14" height="2" fill="#f0b0c0"/>
 <rect x="14" y="35" width="11" height="10" fill="#d86a80"/>
 <rect x="15" y="36" width="4" height="9" fill="#3a3a48"/>
 <rect x="8" y="38" width="8" height="6" fill="#d8622a"/>
 <rect x="0" y="44" width="60" height="3" fill="#3a2a20"/>
 <rect x="28" y="43" width="20" height="2" fill="#c8b030"/>
</svg>
<!-- 轨道吊 -->
<svg x="545" y="840.4" width="59" height="46.3" viewBox="0 0 60 47">
 <rect width="60" height="47" fill="url(#gSkyDeep)"/>
 <path d="M1 6 Q6 4 12 7 Q8 10 2 9 Z" fill="#e8f0fa" opacity=".85"/>
 <path d="M42 35 Q50 30 60 31 V43 H42 Z" fill="#1c2a50"/>
 <rect y="44" width="60" height="3" fill="#8a7a6a"/>
 <path d="M0 27 L12 29 V47 H0 Z" fill="#ebe6da"/>
 <path d="M0 35 H12 M0 40 H12" stroke="#cfc8b8" stroke-width=".8"/>
 <rect x="13" y="37" width="14" height="8" fill="#b86444"/>
 <rect x="15" y="33" width="8" height="4" fill="#c87050"/>
 <rect x="27" y="38" width="14" height="7" fill="#e4e8ee"/>
 <rect x="30" y="39" width="6" height="3" fill="#4a80c0"/>
 <path d="M11 20 L44 13" stroke="#d01c2c" stroke-width="3.2"/>
 <path d="M12 20 V44 M17 21 V38 M40 14 V45 M44 13 V45" stroke="#d01c2c" stroke-width="2"/>
 <path d="M32 6 L34 14 M32 6 L42 13 M32 6 L28 15" stroke="#d01c2c" stroke-width="1.3"/>
 <path d="M12 24 L44 18" stroke="#c81828" stroke-width="1.2"/>
 <path d="M24 23 H32 V30 H24 Z" fill="#e09a50"/>
 <rect x="24" y="23" width="8" height="2" fill="#e8c040"/>
</svg>
<!-- 轮胎吊 -->
<svg x="619.7" y="840.4" width="59" height="46.3" viewBox="0 0 60 47">
 <rect width="60" height="47" fill="#d8dbdf"/>
 <path d="M0 8 Q8 12 14 20 Q10 30 16 36 H0 Z" fill="#8e9aaa"/>
 <path d="M0 40 H60 V47 H0Z" fill="#c6bdb0"/>
 <path d="M19 4 H28 L29 16 H19Z" fill="#c41e1e"/>
 <path d="M20 5 H27 V9 H20Z" fill="#1e3870"/>
 <path d="M23 0 V4" stroke="#d03030" stroke-width="1"/>
 <path d="M9 21 L43 12 L44 19 L10 28 Z" fill="#da2a22"/>
 <path d="M13 23 h2 v2 h-2Z M18 21.6 h2 v2 h-2Z M23 20.3 h2 v2 h-2Z M28 19 h2 v2 h-2Z M33 17.6 h2 v2 h-2Z M38 16.3 h2 v2 h-2Z" fill="#3a70c8"/>
 <path d="M10 26 H15 V37 H10Z" fill="#d82820"/>
 <path d="M4 34 H19 V40 H4Z" fill="#c82420"/>
 <path d="M38 15 H44 V34 H38Z" fill="#d82820"/>
 <path d="M31 21 L39 28" stroke="#d82820" stroke-width="3"/>
 <path d="M32 30 H55 V38 H32Z" fill="#d42a22"/>
 <path d="M44 22 L54 31" stroke="#d84030" stroke-width="2.2"/>
 <path d="M25 22 V28 M30 21 V28" stroke="#f0f0f0" stroke-width="1.6"/>
 <path d="M24 28 H31 V31 H24Z" fill="#c82020"/>
 <path d="M5 40 H19 M32 40 H56" stroke="#1e1e1e" stroke-width="2.6"/>
</svg>
<!-- 堆取料 -->
<svg x="693.3" y="840.4" width="58.5" height="46.3" viewBox="0 0 60 47">
 <rect width="60" height="47" fill="url(#gSky2)"/>
 <rect y="42" width="60" height="5" fill="#3e3a36"/>
 <path d="M24 42 V38.5 H60 V42Z" fill="#2c2e32"/>
 <path d="M0 33 H7 V37 H0Z" fill="#3aa0b0"/>
 <path d="M20 34.5 L50 28.5" stroke="#e0701e" stroke-width="3.4"/>
 <path d="M12 14.5 L48 27" stroke="#e8904a" stroke-width=".9"/>
 <path d="M3 26 L11 14 M7 26 L15 15 M22 30 L26 20 M25 22 L28 32" stroke="#d8661c" stroke-width="1.4"/>
 <path d="M1 25 H23 V29.5 H1Z" fill="#e4781e"/>
 <circle cx="3.5" cy="26.5" r="2.4" fill="#f08a2a"/>
 <path d="M14 22 H21 V33 H14Z" fill="#e07a22"/>
 <path d="M5 33 L20 32 L22 42 H3Z" fill="#d8661c"/>
 <path d="M8 35 L14 41 M12 33 L18 40" stroke="#4a2410" stroke-width="1.3"/>
 <path d="M0 38 H6 V42 H0Z" fill="#c8601c"/>
 <circle cx="53" cy="24.5" r="5.6" fill="#3a2418"/>
 <circle cx="53" cy="24.5" r="2.8" fill="#b05a20"/>
</svg>
<!-- 闸口 -->
<svg x="961.2" y="840.6" width="74.6" height="50" viewBox="0 0 75 50">
 <rect width="75" height="50" fill="#c9cfd2"/>
 <path d="M40 16 Q58 12 75 12 V38 H40Z" fill="#7aa266"/>
 <path d="M52 22 Q64 18 75 20 V38 H52 Z" fill="#5e9440"/>
 <path d="M0 0 H75 V8 L56 20 L20 24 L0 12Z" fill="#5e5c58"/>
 <path d="M0 0 H75 V3 L0 4Z" fill="#3a3a3a"/>
 <path d="M12 5 L50 8 L54 16 L16 21 Z" fill="#a8a294"/>
 <path d="M18 8 L46 10 M16 13 L50 14 M18 17 L52 16" stroke="#d8d4c8" stroke-width="1.2"/>
 <path d="M15 20 L52 18" stroke="#8a8a8a" stroke-width="1"/>
 <rect x="0" y="8" width="7" height="36" fill="#d8dfe8"/>
 <rect x="0" y="42" width="7" height="3" fill="#4a90d0"/>
 <path d="M10 10 V42" stroke="#6e8aaa" stroke-width="2.4"/>
 <path d="M29 22 V40 M57 18 V38" stroke="#7e8ea0" stroke-width="1.5"/>
 <rect x="12" y="22" width="45" height="5" fill="#e0e2e4"/>
 <rect y="38" width="75" height="12" fill="#a6a6a4"/>
 <rect x="12" y="26" width="14" height="13" fill="#1e2a44"/>
 <rect x="15" y="27" width="9" height="6" fill="#2a5aa8"/>
 <rect x="30" y="26" width="12" height="12" fill="#222c40"/>
 <rect x="34" y="27" width="6" height="5" fill="#3a62a8"/>
 <rect x="42" y="27" width="9" height="11" fill="#282a30"/>
 <rect x="26" y="29" width="3" height="9" fill="#e07020"/>
 <rect x="49" y="29" width="3" height="9" fill="#d87030"/>
 <rect x="58" y="30" width="15" height="7" fill="#3a4a8a"/>
 <path d="M6 44 H22" stroke="#1a1a1a" stroke-width="4"/>
 <path d="M8 42 L10 46 M12 42 L14 46 M16 42 L18 46 M20 42 L22 46" stroke="#e8c020" stroke-width="1.6"/>
 <path d="M34 39.5 H48" stroke="#1a1a1a" stroke-width="3"/>
 <path d="M36 38 L37 41 M40 38 L41 41 M44 38 L45 41" stroke="#e8c020" stroke-width="1.4"/>
 <path d="M52 38 H72" stroke="#c8b060" stroke-width="2"/>
 <path d="M30 50 L36 44" stroke="#d8c050" stroke-width="1"/>
</svg>

<!-- ===================== LEGEND ===================== -->
<rect x="73.6" y="954.5" width="991" height="105.8" fill="none" stroke="#dc5a5e" stroke-width="1"/>
<g font-size="27" fill="#c00000" stroke="#c00000" stroke-width=".35" text-anchor="middle">
 <text x="92" y="1000.5">图</text>
 <text x="92" y="1034.2">例</text>
</g>
<use href="#badge" x="137.6" y="964.5" width="30" height="30"/>
<use href="#opsShield" x="215.8" y="965" width="38.2" height="28.8"/>
<use href="#audit2" x="299" y="965" width="39" height="33"/>
<use href="#audit" x="392" y="965.6" width="38" height="33"/>
<use href="#fw" x="467.7" y="964.8" width="34.5" height="24.2"/>
<use href="#opsGear" x="541.2" y="965" width="37.8" height="27.7"/>
<use href="#opsLog" x="634" y="965" width="37.8" height="27.7"/>
<use href="#scan" x="717" y="964" width="35" height="28.5"/>
<use href="#gear1" x="803.7" y="963" width="30.6" height="30.6"/>
<use href="#gear2" x="903.4" y="963" width="30.6" height="30.6"/>
<use href="#usbbox" x="1005" y="964.8" width="36.8" height="28.8"/>
<g font-size="12.6" letter-spacing="0.8" fill="#c8161e" stroke="#c8161e" stroke-width=".25" text-anchor="middle">
 <text x="151.6" y="1018.6">工业主机卫</text><text x="151.6" y="1035.1">士系统</text>
 <text x="233.5" y="1018.6">工业主机卫</text><text x="233.5" y="1035.1">士管控中心</text>
 <text x="322" y="1018.6">工业入侵检测</text><text x="322" y="1035.1">与审计系统</text>
 <text x="409" y="1018.6">工业安全监</text><text x="409" y="1035.1">测审计系统</text>
 <text x="485.5" y="1018.6">工业防火</text><text x="485.5" y="1035.1">墙系统</text>
 <text x="561.6" y="1018.6">工业运维审</text><text x="561.6" y="1035.1">计系统</text>
 <text x="647.5" y="1018.6">工业日志收集</text><text x="647.5" y="1035.1">与分析系统</text>
 <text x="734.5" y="1018.6">工业漏洞</text><text x="734.5" y="1035.1">扫描系统</text>
 <text x="818.5" y="1018.6">工业安全集</text><text x="818.5" y="1035.1">中管理系统</text>
 <text x="921" y="1018.6">工业互联网态势</text><text x="921" y="1035.1">分析与安全管理</text><text x="921" y="1051.6">系统</text>
 <text x="1023" y="1018.6">USB安全管</text><text x="1023" y="1035.1">理系统</text>
</g>
</svg>
</body>
</html>
